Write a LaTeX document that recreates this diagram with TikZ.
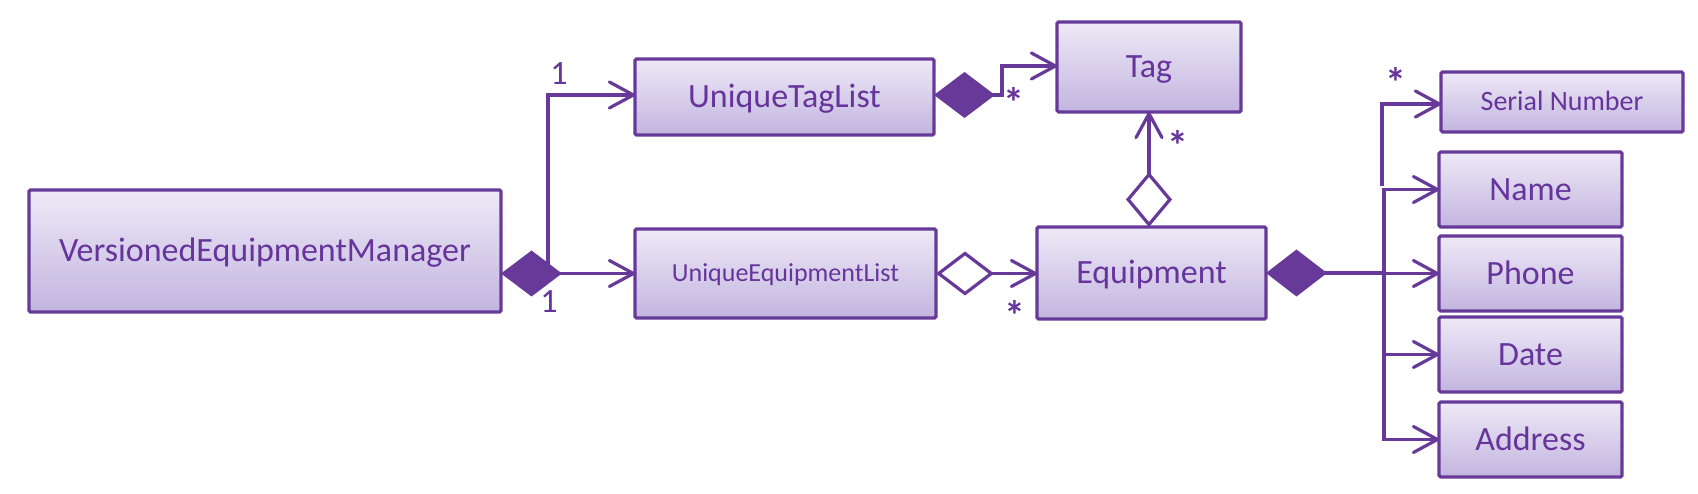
\documentclass[tikz,border=0pt]{standalone}
\usepackage{fontspec}
\setmainfont{Carlito}
\usetikzlibrary{arrows.meta,calc}
\definecolor{lc}{RGB}{103,58,153}
\definecolor{tc}{RGB}{102,52,155}
\definecolor{ftop}{RGB}{238,233,247}
\definecolor{fbot}{RGB}{194,181,223}
\begin{document}
\begin{tikzpicture}[x=1pt,y=-1pt,
  cls/.style={draw=lc, line width=3.2pt, rounded corners=1.5pt, top color=ftop, bottom color=fbot,
    text=tc, inner sep=0pt, outer sep=0pt, font=\fontsize{34}{40}\selectfont, text height=22pt, text depth=0pt},
  conn/.style={draw=lc, line width=3.2pt},
  barb/.tip={Straight Barb[length=24pt,width=26pt,round]},
  arr/.style={conn, -barb},
  comp/.style={conn, {Diamond[length=61pt,width=46pt]}-barb},
  aggr/.style={conn, {Diamond[fill=white,length=58pt,width=44pt]}-barb},
  lbl/.style={text=tc, inner sep=0pt, font=\fontsize{34}{40}\selectfont},
  star/.style={text=tc, inner sep=0pt, font=\fontsize{42}{48}\bfseries}
]
\useasboundingbox (0,0) rectangle (1698,494);
\node[cls, minimum width=472pt, minimum height=122pt] (VEM) at (265,251) {VersionedEquipmentManager};
\node[cls, minimum width=299pt, minimum height=76pt] (UTL) at (784.5,97) {UniqueTagList};
\node[cls, minimum width=184pt, minimum height=90pt] (Tag) at (1149,67) {Tag};
\node[cls, minimum width=301pt, minimum height=89pt, font=\fontsize{26}{30}\selectfont, text height=16.7pt] (UEL) at (785.5,273.5) {UniqueEquipmentList};
\node[cls, minimum width=229pt, minimum height=92pt] (Equip) at (1151.5,273) {Equipment};
\node[cls, minimum width=242pt, minimum height=60pt, font=\fontsize{28}{32}\selectfont, text height=18pt] (Serial) at (1562,102) {Serial Number};
\node[cls, minimum width=183pt, minimum height=75pt] (Name) at (1530.5,189.5) {Name};
\node[cls, minimum width=183pt, minimum height=75pt] (Phone) at (1530.5,273.5) {Phone};
\node[cls, minimum width=183pt, minimum height=75pt] (Date) at (1530.5,354.5) {Date};
\node[cls, minimum width=183pt, minimum height=75pt] (Address) at (1530.5,439.5) {Address};
\coordinate (J) at (1384,273);

% VersionedEquipmentManager
\draw[arr] ($(VEM.east |- UEL.west)+(47,0)$) |- ($(UTL.west)+(0,-2)$);
\draw[comp] (VEM.east |- UEL.west) -- (UEL.west);
% UniqueTagList -> Tag
\draw[comp] ($(UTL.east)+(0,-2)$) -- ++(68,0) |- ($(Tag.west)+(0,-1)$);
% UniqueEquipmentList -> Equipment
\draw[aggr] (UEL.east) -- (UEL.east -| Equip.west);
% Equipment -> Tag
\draw[conn, {Diamond[fill=white,length=55pt,width=46pt]}-barb] (Tag.south |- Equip.north) -- (Tag.south);
% Equipment -> fields
\draw[conn, {Diamond[length=61pt,width=47pt]}-] (Equip.east) -- (J);
\draw[arr] (J |- Name.west) |- (Address.west);
\draw[arr] ($(J |- Name.west)+(-1.6,0)$) -- (Name.west);
\draw[arr] ($(J |- Phone.west)+(-1.6,0)$) -- (Phone.west);
\draw[arr] ($(J |- Date.west)+(-1.6,0)$) -- (Date.west);
\draw[arr] ($(J |- Name.west)+(-2,-3)$) |- ($(Serial.west)+(0,2)$);

% multiplicities
\node[lbl] (m1) at (559,74) {1};
\node[lbl] (m2) at (549,302) {1};
\node[star] (m3) at (1014,102) {*};
\node[star] (m4) at (1178,145) {*};
\node[star] (m5) at (1015,315) {*};
\node[star] (m6) at (1396,82) {*};
\end{tikzpicture}
\end{document}
